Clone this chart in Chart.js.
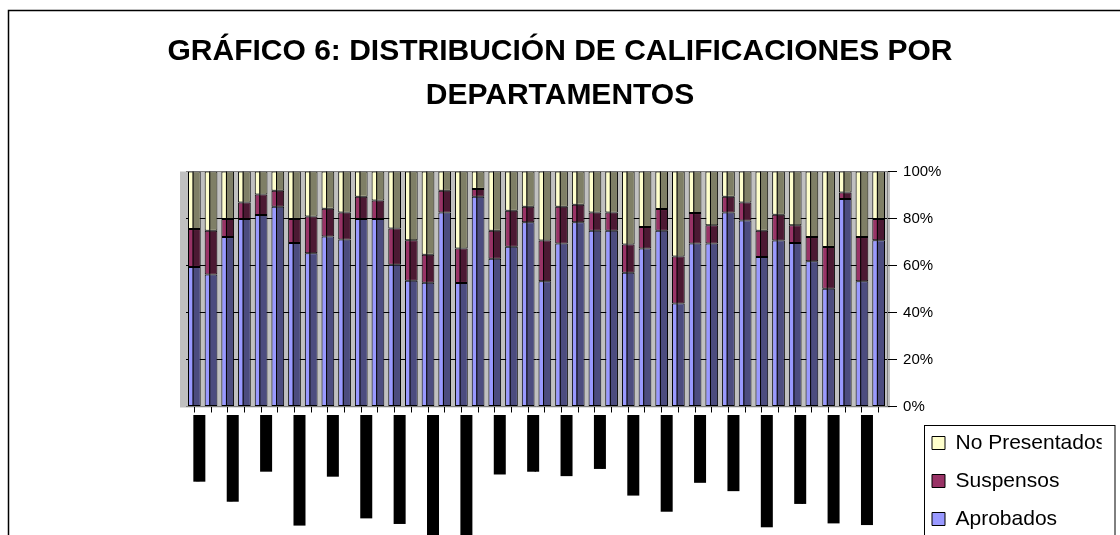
<!DOCTYPE html>
<html lang="es">
<head>
<meta charset="utf-8">
<title>Gráfico 6</title>
<script src="https://cdn.jsdelivr.net/npm/chart.js@4.4.1/dist/chart.umd.min.js"></script>
<style>
  html, body { margin: 0; padding: 0; background: #fff; }
  canvas { display: block; }
</style>
</head>
<body>
<canvas id="grafico6" width="1120" height="535"></canvas>
<script>
// ── Datos ─────────────────────────────────────────────
// sólo se rotulan los departamentos de posición par (uno de cada dos)
const departamentos = [
    'Química Física', 'Bioquímica',
    'Química Inorgánica', 'Geografía',
    'Matemáticas', 'Fisiología',
    'Derecho Civil y Mercantil', 'Sociología',
    'Física Teórica', 'Economía Aplicada',
    'Derecho Administrativo', 'Filología Hispánica',
    'Tecnología de Alimentos', 'Ingeniería Química',
    'Organización de Empresas', 'Estadística',
    'Historia Antigua y Medieval', 'Paleontología',
    'Psicobiología', 'Microbiología',
    'Antropología', 'Edafología',
    'Farmacología', 'Filosofía',
    'Arqueología', 'Zoología',
    'Química Orgánica', 'Botánica',
    'Ingeniería Electrónica', 'Genética',
    'Física Aplicada', 'Ecología',
    'Psicología Social', 'Óptica',
    'Ciencias de la Educación', 'Didáctica de las Ciencias',
    'Análisis Matemático', 'Teoría de la Literatura',
    'Historia Contemporánea', 'Ciencias de la Computación',
    'Microbiología y Genética', 'Ingeniería Cartográfica'
];

const aprobados = [
    59.4, 56.2, 72.1, 79.8, 81.5, 85.0, 69.6, 65.2, 72.3, 71.1,
    79.8, 79.8, 60.3, 53.5, 52.7, 82.6, 52.6, 89.3, 62.9, 68.0,
    78.4, 53.3, 69.4, 78.4, 74.8, 74.8, 56.9, 67.2, 74.8, 43.8,
    69.4, 69.4, 82.6, 79.1, 63.6, 70.6, 69.6, 61.8, 50.1, 88.3,
    53.3, 70.7
];

const suspensos = [
    16.1, 18.6, 7.7, 7.0, 8.7, 6.8, 10.2, 15.7, 11.9, 11.5,
    9.5, 7.9, 15.4, 17.2, 11.9, 9.2, 14.6, 3.3, 11.9, 15.3,
    6.6, 17.3, 15.6, 7.5, 7.8, 7.8, 12.0, 9.2, 9.2, 20.0,
    12.9, 7.7, 6.7, 7.7, 11.2, 11.0, 7.5, 10.3, 17.8, 2.8,
    18.8, 9.1
];

const noPresentados = [
    24.5, 25.2, 20.2, 13.2, 9.8, 8.2, 20.2, 19.1, 15.8, 17.4,
    10.7, 12.3, 24.3, 29.3, 35.4, 8.2, 32.8, 7.4, 25.2, 16.7,
    15.0, 29.4, 15.0, 14.1, 17.4, 17.4, 31.1, 23.6, 16.0, 36.2,
    17.7, 22.9, 10.7, 13.2, 25.2, 18.4, 22.9, 27.9, 32.1, 8.9,
    27.9, 20.2
];

const porcentajes = [0, 20, 40, 60, 80, 100];

const FUENTE = '"Liberation Sans", Arial, sans-serif';

// ── Fondo gris del área de trazado y marco exterior ──────
const fondoPlugin = {
    id: 'fondo',
    beforeDraw(chart) {
        const { ctx, chartArea: a } = chart;
        ctx.save();
        ctx.fillStyle = '#fff';
        ctx.fillRect(0, 0, chart.width, chart.height);
        ctx.fillStyle = '#c0c0c0';
        ctx.fillRect(a.left - 6, a.top, a.right - a.left + 9, a.bottom - a.top + 1);
        ctx.strokeStyle = '#000';
        ctx.lineWidth = 1.5;
        ctx.strokeRect(8.5, 10.5, chart.width + 20, chart.height + 20);
        ctx.restore();
    }
};

// ── Sombreado "3D" de las columnas (cara derecha oscura) ──
const sombraPlugin = {
    id: 'sombra',
    afterDatasetsDraw(chart) {
        const ctx = chart.ctx;
        ctx.save();
        chart.data.datasets.forEach((ds, i) => {
            chart.getDatasetMeta(i).data.forEach(bar => {
                const { x, y, base, width } = bar.getProps(['x', 'y', 'base', 'width'], true);
                const left = x - width / 2;
                const split = left + width * 0.36;
                const top = Math.min(y, base), bottom = Math.max(y, base);
                ctx.fillStyle = 'rgba(0,0,0,0.5)';
                ctx.fillRect(split, top + 1, x + width / 2 - 1 - split, bottom - top - 2);
                ctx.strokeStyle = '#000';
                ctx.lineWidth = 1;
                ctx.beginPath();
                ctx.moveTo(split + 0.5, top);
                ctx.lineTo(split + 0.5, bottom);
                ctx.stroke();
            });
        });
        ctx.restore();
    }
};

// ── Leyenda: posición bajo el eje y recuadro ─────────────
const marcoLeyenda = {
    id: 'marcoLeyenda',
    afterLayout(chart) {
        const lg = chart.legend;
        lg.left = 915; lg.right = lg.left + lg.width;
        lg.top += 11.5; lg.bottom += 11.5;
    },
    afterDraw(chart) {
        const hb = chart.legend.legendHitBoxes;
        if (!hb || !hb.length) return;
        const ctx = chart.ctx;
        const x0 = Math.round(hb[0].left - 8) + 0.5;
        const y0 = Math.round(hb[0].top - 8) + 0.5;
        ctx.save();
        ctx.strokeStyle = '#000';
        ctx.lineWidth = 1;
        ctx.strokeRect(x0, y0, chart.width - 5 - x0, 200);
        ctx.restore();
    }
};

new Chart(document.getElementById('grafico6'), {
    type: 'bar',
    data: {
        labels: departamentos,
        datasets: [
            {
                label: 'Aprobados',
                data: aprobados,
                backgroundColor: '#9999ff',
                borderColor: '#000',
                borderWidth: 1,
                borderSkipped: false,
                barPercentage: 0.76,
                categoryPercentage: 1
            },
            {
                label: 'Suspensos',
                data: suspensos,
                backgroundColor: '#993366',
                borderColor: '#000',
                borderWidth: 1,
                borderSkipped: false,
                barPercentage: 0.76,
                categoryPercentage: 1
            },
            {
                label: 'No Presentados',
                data: noPresentados,
                backgroundColor: '#ffffcc',
                borderColor: '#000',
                borderWidth: 1,
                borderSkipped: false,
                barPercentage: 0.76,
                categoryPercentage: 1
            }
        ]
    },
    options: {
        responsive: false,
        animation: false,
        layout: { padding: 0 },
        plugins: {
            title: {
                display: true,
                text: ['GRÁFICO 6: DISTRIBUCIÓN DE CALIFICACIONES POR', 'DEPARTAMENTOS'],
                color: '#000',
                font: { family: FUENTE, size: 30, weight: 'bold', lineHeight: 44 / 30 },
                padding: { top: 30, bottom: 53.5 }
            },
            legend: {
                position: 'right',
                align: 'end',
                reverse: true,
                labels: {
                    color: '#000',
                    font: { family: FUENTE, size: 21 },
                    boxWidth: 13,
                    boxHeight: 13,
                    padding: 17
                }
            },
            tooltip: { enabled: false }
        },
        scales: {
            x: {
                stacked: true,
                grid: { offset: false, drawOnChartArea: false, drawTicks: true, tickLength: 6, tickColor: '#000' },
                border: { display: false },
                ticks: {
                    autoSkip: false,
                    minRotation: 90,
                    maxRotation: 90,
                    labelOffset: -1,
                    padding: 2.5,
                    color: '#000',
                    font: { family: FUENTE, size: 10, lineHeight: 1.2 },
                    showLabelBackdrop: true,
                    backdropColor: '#000',
                    backdropPadding: 0,
                    callback: function (v, i) {
                        return i % 2 === 0 ? this.getLabelForValue(v) : '';
                    }
                },
                afterFit: s => { s.height = 128.5; }
            },
            y: {
                stacked: true,
                position: 'right',
                min: 0,
                max: 100,
                afterBuildTicks: s => { s.ticks = porcentajes.map(v => ({ value: v })); },
                grid: {
                    color: c => (c.tick && (c.tick.value === 0 || c.tick.value === 100)) ? '#808080' : '#000',
                    tickColor: '#000',
                    tickLength: 10
                },
                border: { display: true, color: '#808080' },
                ticks: {
                    // espejo + alineación lejana: etiquetas a la derecha sin recorte
                    mirror: true,
                    crossAlign: 'far',
                    padding: 54.4,
                    color: '#000',
                    font: { family: FUENTE, size: 15 },
                    callback: v => v + '%'
                },
                afterFit: s => { s.width = s.chart.width - 887 - s.chart.legend.width; }
            },
            relleno: {
                axis: 'y',
                type: 'linear',
                position: 'left',
                display: true,
                grid: { display: false },
                border: { display: false },
                ticks: { display: false },
                afterFit: s => { s.width = 186; }
            }
        }
    },
    plugins: [fondoPlugin, sombraPlugin, marcoLeyenda]
});
</script>
</body>
</html>
